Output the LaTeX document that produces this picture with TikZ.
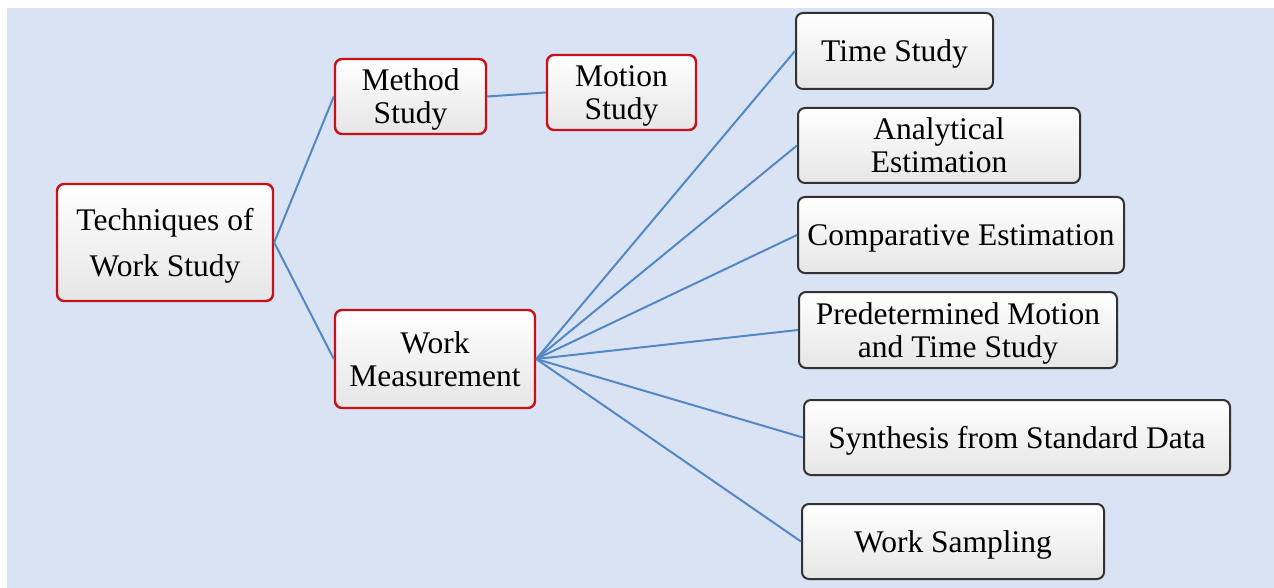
\documentclass[tikz,border=0pt]{standalone}
\usepackage{fontspec}
\setmainfont{Liberation Serif}
\definecolor{pagebg}{RGB}{218,227,243}
\definecolor{linkblue}{RGB}{84,136,196}
\definecolor{boxred}{RGB}{200,16,24}
\definecolor{boxdark}{RGB}{50,50,50}
\begin{document}
\begin{tikzpicture}[x=1pt,y=-1pt,
  box/.style={rounded corners=7pt, top color=white, middle color=white,
    bottom color=black!10, align=center, inner sep=0pt, text depth=0pt,
    font=\fontsize{31.5}{33}\selectfont},
  redbox/.style={box, draw=boxred, line width=2.4pt},
  darkbox/.style={box, draw=boxdark, line width=2pt},
  link/.style={draw=linkblue, line width=2pt}]
\useasboundingbox (0,0) rectangle (1274,588);
\fill[white] (0,0) rectangle (1274,588);
\fill[pagebg] (7,8) rectangle (1274,588);

% left side: root and its two branches
\node[redbox, minimum width=216, minimum height=117] (tech) at (165,242.5)
  {Techniques of\\[13pt]Work Study};
\node[redbox, minimum width=151, minimum height=75] (method) at (410.5,96.5)
  {Method\\Study};
\node[redbox, minimum width=149, minimum height=75] (motion) at (621.5,92.5)
  {Motion\\Study};
\node[redbox, minimum width=200, minimum height=98] (wm) at (435,359)
  {Work\\Measurement};

% right side: techniques of work measurement
\node[darkbox, minimum width=197, minimum height=76] (time) at (894.5,51)
  {Time Study};
\node[darkbox, minimum width=282, minimum height=75] (anal) at (939,145.5)
  {Analytical\\Estimation};
\node[darkbox, minimum width=326, minimum height=76] (comp) at (961,235)
  {Comparative Estimation};
\node[darkbox, minimum width=318, minimum height=76] (pred) at (958,330)
  {Predetermined Motion\\and Time Study};
\node[darkbox, minimum width=426, minimum height=75] (synth) at (1017,437.5)
  {Synthesis from Standard Data};
\node[darkbox, minimum width=302, minimum height=75] (samp) at (953,541.5)
  {Work Sampling};

% connectors
\draw[link] (tech.east) -- (method.west);
\draw[link] (tech.east) -- (wm.west);
\draw[link] (method.east) -- (motion.west);
\foreach \t in {time,anal,comp,pred,synth,samp}
  \draw[link] (wm.east) -- (\t.west);
\end{tikzpicture}
\end{document}
